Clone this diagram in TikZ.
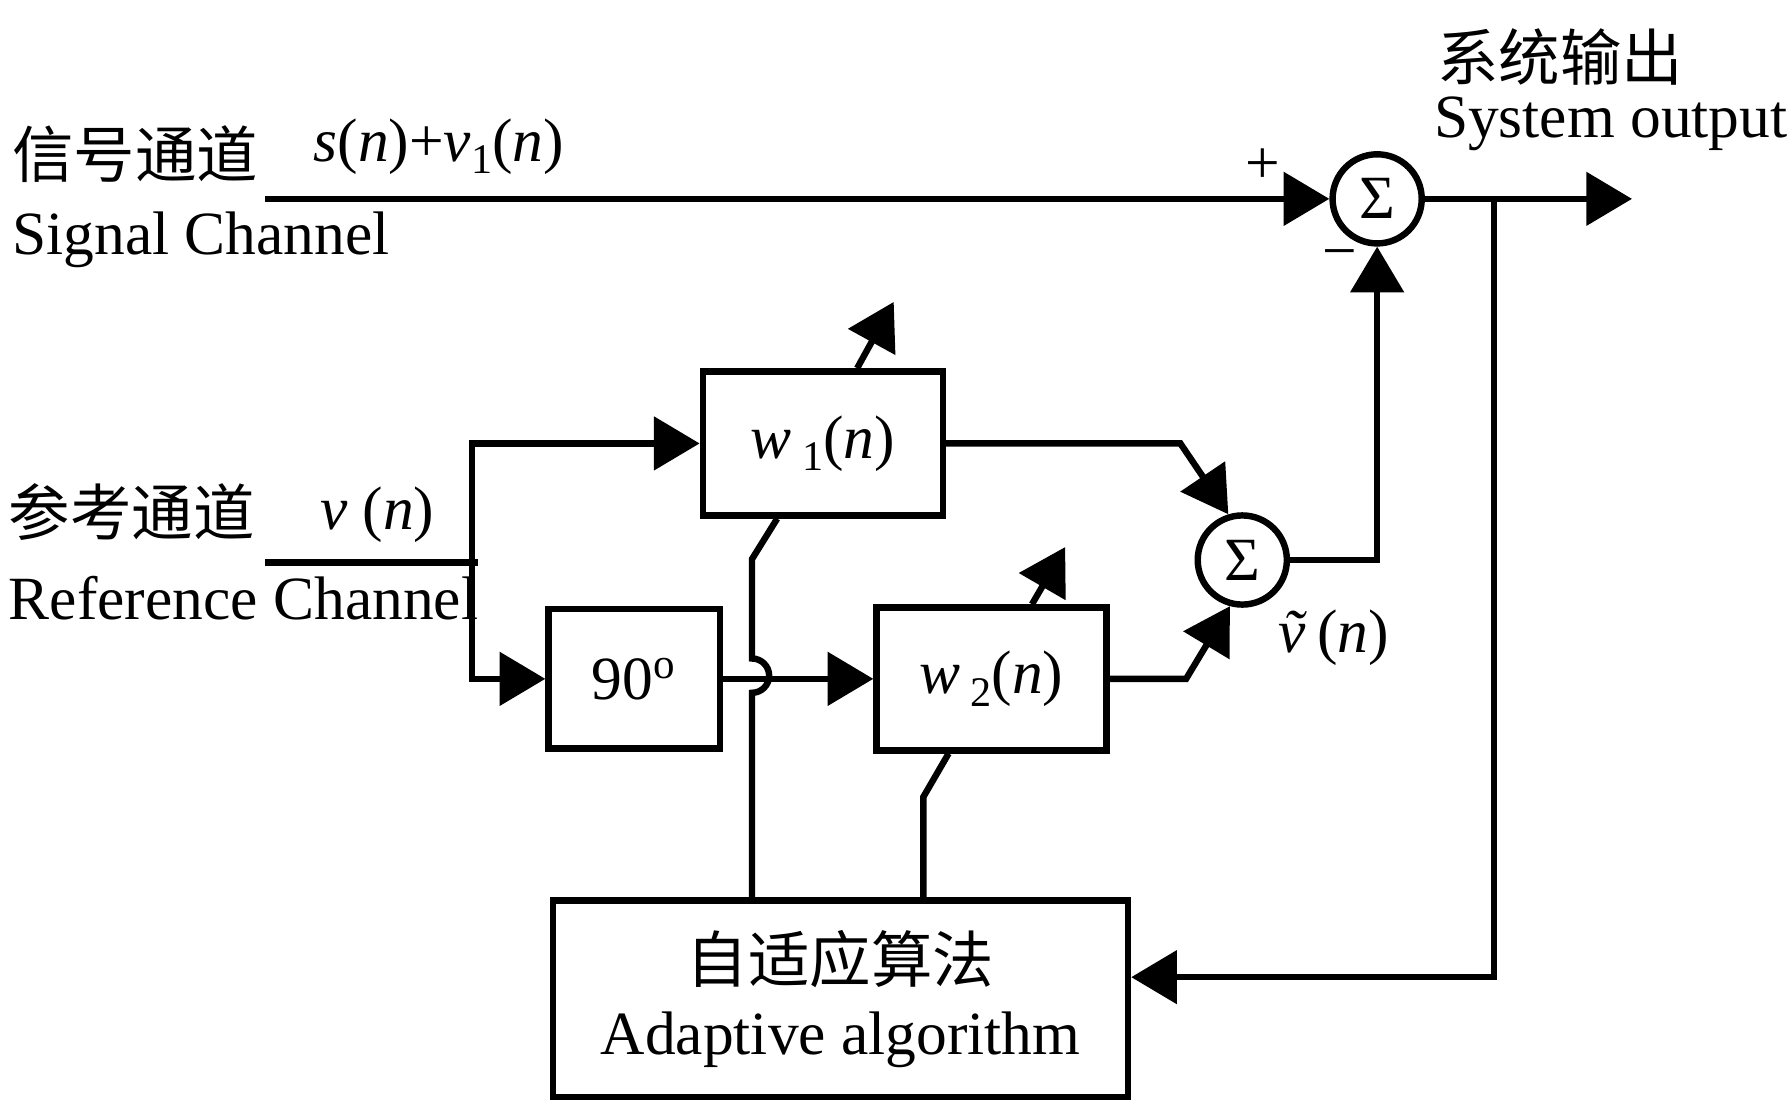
\documentclass[tikz,border=0pt]{standalone}
\usepackage{fontspec}
\setmainfont{Liberation Serif}
\newfontfamily\cjk{Noto Sans CJK SC}
\usetikzlibrary{arrows.meta,positioning}
\newcommand{\lo}[1]{\raisebox{-0.45ex}{\fontsize{10.5}{10.5}\selectfont #1}}

\begin{document}
\begin{tikzpicture}[>={Triangle[length=0.4cm,width=0.46cm]},line width=1.6pt,
    font=\fontsize{15.3}{18}\selectfont,
    box node/.style={rectangle,draw,inner sep=0pt},
    sum node/.style={circle,draw,minimum size=0.78cm,inner sep=0pt},
    text node/.style={inner sep=0pt}]
\useasboundingbox (0,0) rectangle (15.68,9.66);

\node[sum node] (s1) at (12.05,7.92) {Σ};
\node[sum node] (s2) at (10.87,4.76) {Σ};
\node[box node,minimum width=2.10cm,minimum height=1.26cm] (w1) at (7.20,5.78) {\textit{w}\,\lo{1}(\textit{n})};
\node[box node,minimum width=2.01cm,minimum height=1.25cm] (w2) at (8.675,3.72) {\textit{w}\,\lo{2}(\textit{n})};
\node[box node,minimum width=1.50cm,minimum height=1.22cm] (ph) at (5.55,3.72) {90\textsuperscript{o}};
\node[box node,minimum width=5.03cm,minimum height=1.72cm,align=center] (alg) at (7.355,0.92) {{\cjk 自适应算法}\\Adaptive algorithm};

\node[text node,anchor=west] (l1) at (0.08,8.31) {\cjk 信号通道};
\node[text node,anchor=west] (l2) at (0.08,7.56) {Signal Channel};
\node[text node] (sig) at (3.84,8.38) {\textit{s}(\textit{n})+\textit{v}\lo{1}(\textit{n})};
\node[text node,anchor=west] (l3) at (0.05,5.18) {\cjk 参考通道};
\node[text node,anchor=west] (l4) at (0.05,4.43) {Reference Channel};
\node[text node] (ref) at (3.30,5.16) {\textit{v} (\textit{n})};
\node[text node,anchor=west] (l5) at (12.55,9.16) {\cjk 系统输出};
\node[text node,anchor=west] (l6) at (12.52,8.58) {System output};
\node[text node] (plus) at (11.05,8.21) {+};
\node[text node] (minus) at (11.72,7.38) {−};
\node[text node] (vt) at (11.67,4.08) {\textit{\~{v}}\,(\textit{n})};

\coordinate (in1) at (2.32,7.92);
\coordinate (out) at (14.28,7.92);
\coordinate (tap) at (13.07,7.92);
\coordinate (fb) at (13.07,1.11);
\coordinate (in2) at (2.32,4.74);
\coordinate (sp) at (4.13,4.74);

\draw[->] (in1) -- (s1);
\draw[->] (s1) -- (out);
\draw[->] (tap) -- (fb) -- (fb -| alg.east);
\draw (in2) -- ([xshift=0.05cm]sp);
\draw[->] (sp) |- (w1.west);
\draw[->] (sp) |- (ph.west);
\draw[->] (ph.east) -- (w2.west);
\draw[->] (w1.east) -- ++(2.05,0) -- (s2.107);
\draw[->] (w2.east) -- ++(0.67,0) -- (s2.255);
\draw[->] (s2.east) -| (s1.south);
\draw[->] ([xshift=3mm]w1.north) -- ++(0.32,0.58);
\draw[->] ([xshift=3.55mm]w2.north) -- ++(0.29,0.50);
\draw ([xshift=-7.75mm]alg.north) -- ++(0,1.79) arc[start angle=-90,end angle=90,radius=0.15] -- ++(0,0.87) -- ([xshift=-4mm]w1.south);
\draw ([xshift=7.25mm]alg.north) -- ++(0,0.88) -- ([xshift=-3.75mm]w2.south);
\end{tikzpicture}
\end{document}
